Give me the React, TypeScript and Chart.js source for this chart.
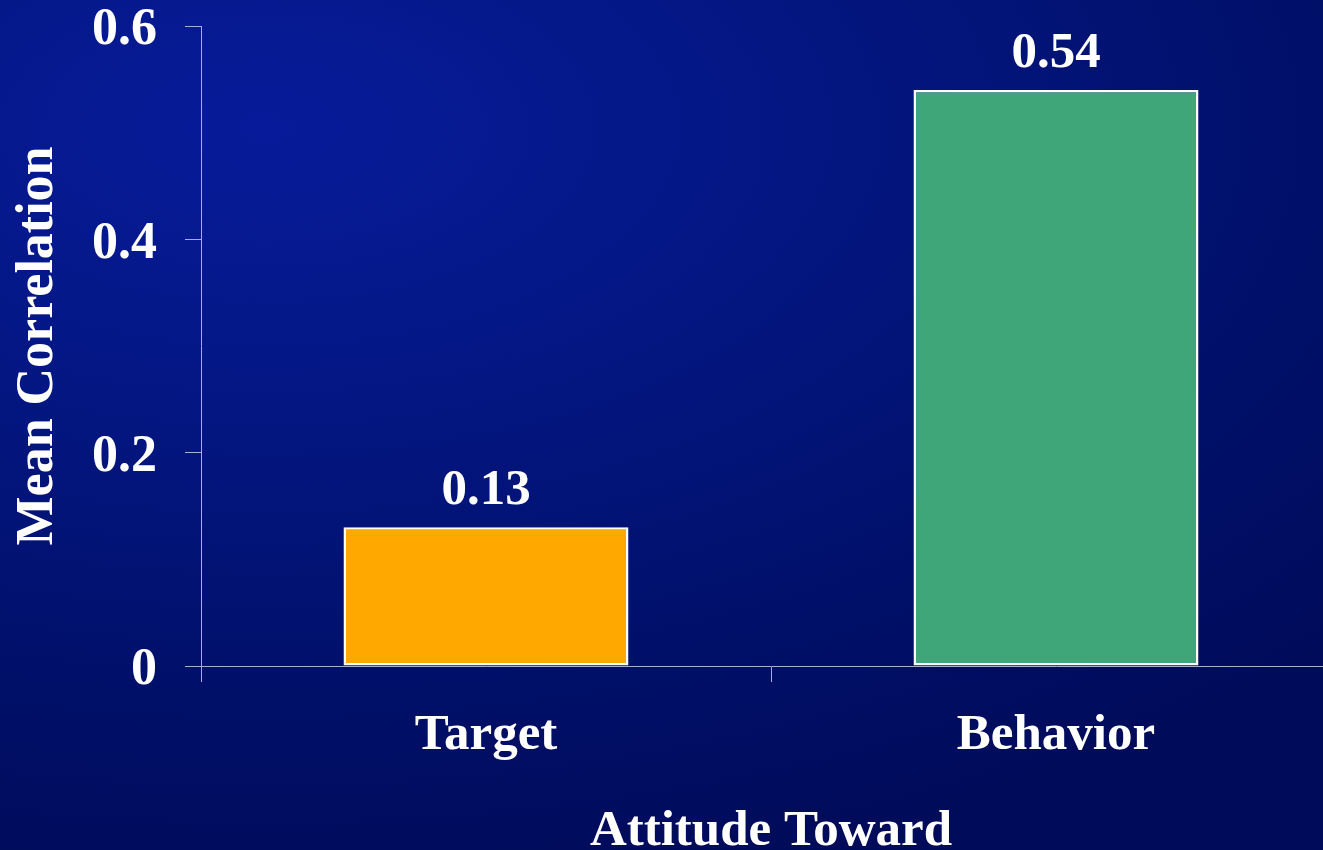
import React, { useEffect, useRef } from "react";
import { Chart, registerables } from "chart.js";

Chart.register(...registerables);

const categories = ["Target", "Behavior"];
const meanCorrelation = [0.13, 0.54];
const barColors = ["#FFA800", "#3FA67A"];
const yTickValues = [0, 0.2, 0.4, 0.6];
const yTitle = "Mean Correlation";
const xTitle = "Attitude Toward";

const FONT = "'Times New Roman', 'Liberation Serif', serif";
const AXIS_COLOR = "#a9afcc";

const valueLabels = {
  id: "valueLabels",
  afterDatasetsDraw(chart: any) {
    const ctx = chart.ctx;
    const meta = chart.getDatasetMeta(0);
    ctx.save();
    ctx.fillStyle = "#ffffff";
    ctx.font = `bold 51px ${FONT}`;
    ctx.textAlign = "center";
    ctx.textBaseline = "alphabetic";
    meta.data.forEach((bar: any, i: number) => {
      const v = chart.data.datasets[0].data[i] as number;
      ctx.fillText(v.toFixed(2), bar.x, bar.y - 23);
    });
    ctx.restore();
  },
};

export default function App() {
  const canvasRef = useRef<HTMLCanvasElement | null>(null);

  useEffect(() => {
    if (!canvasRef.current) return;
    const chart = new Chart(canvasRef.current, {
      type: "bar",
      data: {
        labels: categories,
        datasets: [
          {
            data: meanCorrelation,
            backgroundColor: barColors,
            borderColor: "#ffffff",
            borderWidth: 2.5,
            borderSkipped: false,
            barPercentage: 0.5,
            categoryPercentage: 1,
          },
        ],
      },
      options: {
        responsive: false,
        animation: false,
        layout: { padding: { top: 26, right: 19, left: 0, bottom: 0 } },
        plugins: {
          legend: { display: false },
          tooltip: { enabled: false },
        },
        scales: {
          x: {
            grid: {
              display: true,
              drawOnChartArea: false,
              drawTicks: true,
              tickLength: 16,
              color: AXIS_COLOR,
              offset: true,
            },
            border: { display: true, color: AXIS_COLOR, width: 1 },
            ticks: {
              color: "#ffffff",
              font: { family: FONT, size: 51, weight: "bold" },
              padding: 23,
              maxRotation: 0,
            },
            title: {
              display: true,
              text: xTitle,
              color: "#ffffff",
              font: { family: FONT, size: 51, weight: "bold" },
              padding: { top: 0, bottom: 8 },
            },
            afterFit(s: any) {
              s.height = 870 - 666;
              s.paddingLeft = 0;
              s.paddingRight = 0;
            },
          },
          y: {
            min: 0,
            max: 0.6,
            afterBuildTicks(s: any) {
              s.ticks = yTickValues.map((v) => ({ value: v }));
            },
            grid: {
              display: true,
              drawOnChartArea: false,
              drawTicks: true,
              tickLength: 16,
              color: AXIS_COLOR,
            },
            border: { display: true, color: AXIS_COLOR, width: 1 },
            ticks: {
              color: "#ffffff",
              font: { family: FONT, size: 52, weight: "bold" },
              padding: 28,
              labelOffset: 5,
              callback: (v: any) => (Number(v) === 0 ? "0" : Number(v).toFixed(1)),
            },
            title: {
              display: true,
              text: yTitle,
              color: "#ffffff",
              font: { family: FONT, size: 52, weight: "bold" },
              padding: { top: 7, bottom: 0 },
            },
            afterFit(s: any) {
              s.width = 201;
              s.paddingTop = 0;
              s.paddingBottom = 0;
            },
          },
        },
      },
      plugins: [valueLabels],
    });
    return () => chart.destroy();
  }, []);

  return (
    <div
      style={{
        position: "fixed",
        left: 0,
        top: 0,
        width: 1323,
        height: 850,
        overflow: "hidden",
        background:
          "radial-gradient(ellipse 110% 90% at 20% 15%, #071b9a 0%, #031680 40%, #000f68 75%, #000b5a 100%)",
      }}
    >
      <canvas
        ref={canvasRef}
        width={1360}
        height={870}
        style={{ display: "block", width: 1360, height: 870 }}
      />
    </div>
  );
}
